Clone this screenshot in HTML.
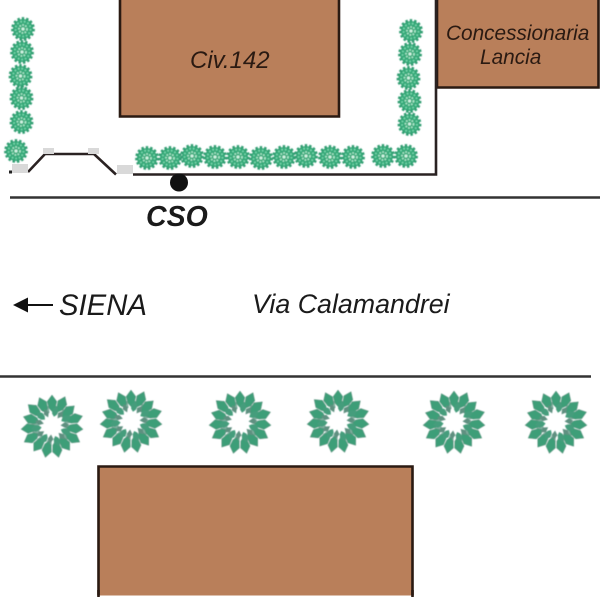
<!DOCTYPE html>
<html><head><meta charset="utf-8"><style>
html,body{margin:0;padding:0;background:#fff}
svg{display:block}
text{font-family:"Liberation Sans",sans-serif;font-style:italic;fill:#2a1a12}
</style></head><body>
<svg width="600" height="600" viewBox="0 0 600 600" xmlns="http://www.w3.org/2000/svg">
<defs>
<filter id="soft" x="-5%" y="-5%" width="110%" height="110%"><feGaussianBlur stdDeviation="0.45"/></filter>
<g id="s">
<circle r="10" fill="#35a878"/>
<circle r="10.600" fill="none" stroke="#2f9c70" stroke-width="2.600" stroke-dasharray="2.400 2"/>
<circle r="7.500" fill="none" stroke="#7ad8ae" stroke-width="1.800" stroke-dasharray="1.600 2"/>
<circle r="4" fill="none" stroke="#b0e8cd" stroke-width="1.800" stroke-dasharray="1.600 1.400"/>
<circle r="1.600" fill="#d0f2e2"/>
</g>
<path id="l" d="M0,-8 L4.800,-1.500 L3.200,5 L0,8.500 L-3.200,5 L-4.800,-1.500Z" fill="#3e9e78" stroke="#5a8f7c" stroke-width=".5"/>
<path id="n" d="M0,-5.500 L3.400,-1 L2.400,3 L0,5.500 L-2.400,3 L-3.400,-1Z" fill="#459d7c"/>
<path id="m" d="M0,-4.500 L2.800,0 L0,4.500 L-2.800,0Z" fill="#5f9080"/>
<g id="b">
<circle r="17" fill="none" stroke="#7fae9e" stroke-width="7" stroke-dasharray="5 4"/>
<use href="#l" transform="rotate(0) translate(0,-23)"/>
<use href="#l" transform="rotate(24) translate(0,-24)"/>
<use href="#l" transform="rotate(48) translate(0,-22)"/>
<use href="#l" transform="rotate(72) translate(0,-24)"/>
<use href="#l" transform="rotate(96) translate(0,-23)"/>
<use href="#l" transform="rotate(120) translate(0,-24)"/>
<use href="#l" transform="rotate(144) translate(0,-22)"/>
<use href="#l" transform="rotate(168) translate(0,-24)"/>
<use href="#l" transform="rotate(192) translate(0,-24)"/>
<use href="#l" transform="rotate(216) translate(0,-23)"/>
<use href="#l" transform="rotate(240) translate(0,-24)"/>
<use href="#l" transform="rotate(264) translate(0,-23)"/>
<use href="#l" transform="rotate(288) translate(0,-22)"/>
<use href="#l" transform="rotate(312) translate(0,-24)"/>
<use href="#l" transform="rotate(336) translate(0,-23)"/>
<use href="#n" transform="rotate(12) translate(0,-15)"/>
<use href="#n" transform="rotate(62) translate(0,-16)"/>
<use href="#n" transform="rotate(112) translate(0,-15)"/>
<use href="#n" transform="rotate(162) translate(0,-16)"/>
<use href="#n" transform="rotate(212) translate(0,-15)"/>
<use href="#n" transform="rotate(262) translate(0,-16)"/>
<use href="#n" transform="rotate(312) translate(0,-15)"/>
<use href="#m" transform="rotate(36) translate(0,-14)"/>
<use href="#m" transform="rotate(86) translate(0,-13)"/>
<use href="#m" transform="rotate(136) translate(0,-14)"/>
<use href="#m" transform="rotate(186) translate(0,-13)"/>
<use href="#m" transform="rotate(236) translate(0,-14)"/>
<use href="#m" transform="rotate(286) translate(0,-13)"/>
<use href="#m" transform="rotate(336) translate(0,-14)"/>
</g>
</defs>

<!-- buildings -->
<path d="M120,-2V116.500H339V-2" fill="#b97f5a" stroke="#2a1a12" stroke-width="2.600"/>
<path d="M437,-2V87.500H598.500V-2" fill="#b97f5a" stroke="#2a1a12" stroke-width="2.600"/>
<path d="M98.500,597V466.500H412.500V597" fill="#b97f5a" stroke="#2a1a12" stroke-width="2.600"/>
<path d="M97,595.500H414V600H97Z" fill="#fff"/>
<path d="M98.500,597V590M412.500,597V590" stroke="#2a1a12" stroke-width="2.600"/>

<!-- fence & roads -->
<path d="M436,0V174.500H133" fill="none" stroke="#2a2222" stroke-width="2.600"/>
<path d="M28,172L45,154H94L116,174.500" fill="none" stroke="#2a2222" stroke-width="2.600"/>
<rect x="9" y="170.500" width="3" height="3" fill="#222"/>
<path d="M10,197.500H600" stroke="#333" stroke-width="2.600"/>
<path d="M0,376.500H591" stroke="#333" stroke-width="2.600"/>
<circle cx="179" cy="182.500" r="9" fill="#111"/>

<!-- gray tabs -->
<rect x="12" y="164" width="16" height="9" fill="#d9d9d9"/>
<rect x="43" y="148" width="11" height="6" fill="#d9d9d9"/>
<rect x="88" y="148" width="11" height="6" fill="#d9d9d9"/>
<rect x="117" y="165" width="16" height="9" fill="#d9d9d9"/>

<!-- small shrubs -->
<g filter="url(#soft)">
<use href="#s" x="23" y="29"/>
<use href="#s" x="22" y="52"/>
<use href="#s" x="20.500" y="76"/>
<use href="#s" x="21.500" y="98"/>
<use href="#s" x="21.500" y="122"/>
<use href="#s" x="16" y="151"/>
<use href="#s" x="147" y="158"/>
<use href="#s" x="170" y="158"/>
<use href="#s" x="192" y="156"/>
<use href="#s" x="215" y="157"/>
<use href="#s" x="238" y="157"/>
<use href="#s" x="261" y="158"/>
<use href="#s" x="284" y="157"/>
<use href="#s" x="306" y="156"/>
<use href="#s" x="330" y="157"/>
<use href="#s" x="353" y="157"/>
<use href="#s" x="383" y="156"/>
<use href="#s" x="406" y="156"/>
<use href="#s" x="411" y="31"/>
<use href="#s" x="410" y="54"/>
<use href="#s" x="408.500" y="78"/>
<use href="#s" x="409.500" y="101"/>
<use href="#s" x="409.500" y="124"/>
</g>

<!-- large shrubs -->
<g filter="url(#soft)">
<use href="#b" x="52" y="426"/>
<use href="#b" x="131" y="421"/>
<use href="#b" x="240" y="422"/>
<use href="#b" x="338" y="421"/>
<use href="#b" x="454" y="422"/>
<use href="#b" x="556" y="422"/>
</g>

<!-- arrow -->
<path d="M25,305H53" stroke="#111" stroke-width="2"/>
<path d="M13,305L28,297.500V312.500Z" fill="#111"/>

<!-- labels -->
<text x="190" y="68" font-size="24">Civ.142</text>
<text x="446" y="40" font-size="20.800">Concessionaria</text>
<text x="480" y="64" font-size="20.800">Lancia</text>
<text x="146" y="226" font-size="28.500" font-weight="bold" style="fill:#1a1a1a">CSO</text>
<text x="59" y="315" font-size="29.300" style="fill:#1a1a1a">SIENA</text>
<text x="252" y="313" font-size="26.800" style="fill:#1a1a1a">Via Calamandrei</text>
</svg>
</body></html>
